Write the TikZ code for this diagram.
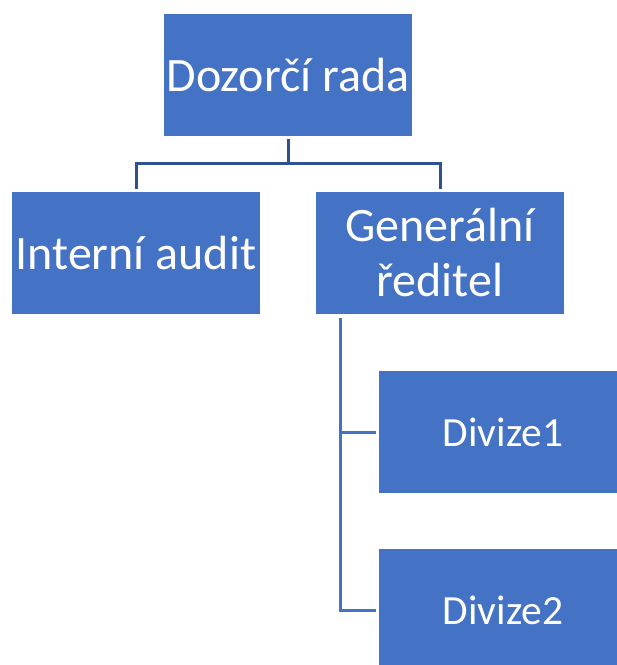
\documentclass[tikz,border=0pt]{standalone}
\usepackage{fontspec}
\setmainfont{Carlito}
\definecolor{boxblue}{HTML}{4472C4}
\definecolor{linedark}{HTML}{2F528F}
\tikzset{
  x=1pt, y=-1pt,
  orgbox/.style={fill=boxblue, draw=none, minimum width=248pt, minimum height=122pt,
    inner sep=0pt, text=white, align=center, font=\fontsize{48}{55}\selectfont},
  subbox/.style={orgbox, font=\fontsize{41.5}{48}\selectfont},
  linktop/.style={draw=linedark, line width=3pt},
  linkside/.style={draw=boxblue, line width=3pt},
}
\begin{document}
\begin{tikzpicture}
\clip (0,0) rectangle (617,665);
\fill[white] (0,0) rectangle (617,665);

\node[orgbox] (rada) at (288,75) {Dozorčí rada};
\node[orgbox] (audit) at (136,253) {Interní audit};
\node[orgbox] (gr) at (440,253) {Generální\\ředitel};
\node[subbox] (d1) at (503,432) {Divize1};
\node[subbox] (d2) at (503,610) {Divize2};

% board to its two reports
\coordinate (hub) at (288,163);
\draw[linktop] ([yshift=-3pt]rada.south) -- (hub);
\draw[linktop] ([yshift=3pt]audit.north) |- (hub) -| ([yshift=3pt]gr.north);

% director to divisions
\coordinate (spine) at (340,318);
\draw[linkside] (spine) |- ([xshift=-3pt]d2.west);
\draw[linkside] (spine |- d1.west) -- ([xshift=-3pt]d1.west);
\end{tikzpicture}
\end{document}
